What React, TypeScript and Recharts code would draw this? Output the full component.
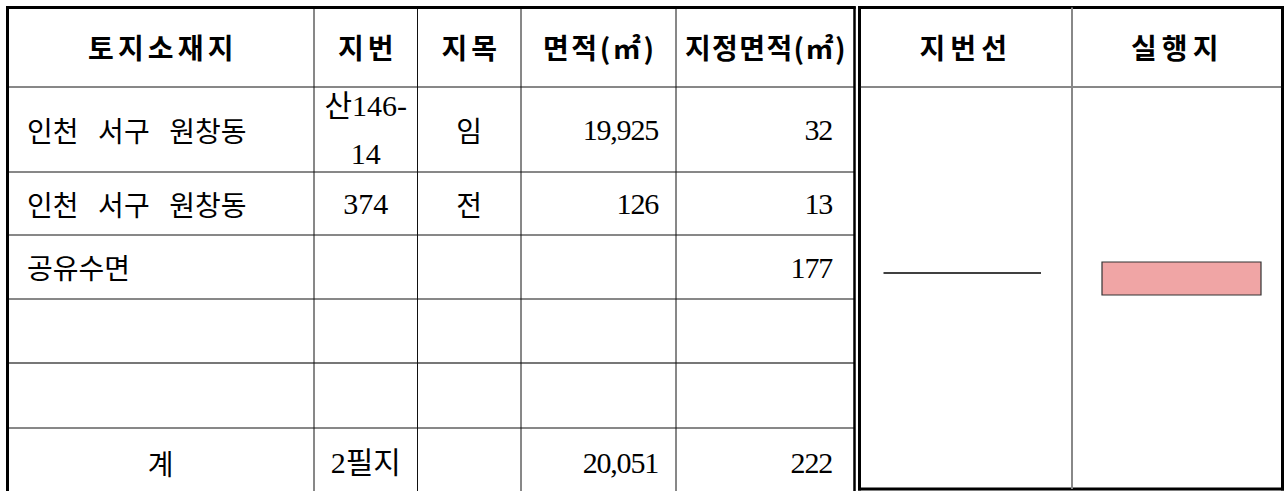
import { ScatterChart, XAxis, YAxis, Scatter, ReferenceLine, ReferenceArea } from "recharts"

// table text
const headers = ["토지소재지", "지번", "지목", "면적(㎡)", "지정면적(㎡)"]
const sideHeaders = ["지번선", "실행지"]
const locations = ["인천 서구 원창동", "인천 서구 원창동", "공유수면", "", "", "계"]
const lotNumbers = ["산146-\n14", "374", "", "", "", "2필지"]
const landCategories = ["임", "전", "", "", "", ""]
const areas = [19925, 126, null, null, null, 20051]
const designatedAreas = [32, 13, 177, null, null, 222]

// layout (page pixels)
const W = 1284
const H = 491
const colEdges = [7.5, 314, 417.5, 521, 676, 854.5]
const rowEdges = [7.5, 87, 172, 235, 299, 363, 428, 497]
const sideEdges = [859.5, 1072, 1282.5]
const sideBottom = 489
const colAlign: ("start" | "middle" | "end")[] = ["start", "middle", "middle", "end", "end"]
const colPad = [19.5, 0, 0, 18, 22.5]
const colFontSize = [28, 30, 28, 30, 30]
const colSpacing = [0, 0, 0, -1.2, -1.2]
const headSize = 28
const headSpacing = [4.2, 4.2, 4.2, 2.6, 1.4]
const sideHeadSpacing = [5, 5]
const lineGap = 48
const symbol = { lineInsetL: 24, lineInsetR: 31, lineY: 273, boxInsetL: 30, boxInsetR: 21.5, boxTop: 262, boxBottom: 295 }

const KO = "'Noto Sans CJK KR', sans-serif"
const SERIF = "'Liberation Serif', 'Noto Sans CJK KR', serif"

type Cell = {
  x: number
  y: number
  lines: string[]
  anchor: "start" | "middle" | "end"
  head: boolean
  col: number
  spacing: number
}

const fmt = (v: number | null) => (v == null ? "" : v.toLocaleString("en-US"))
const mid = (a: number, b: number) => (a + b) / 2

function buildCells(): Cell[] {
  const cells: Cell[] = []
  const headY = mid(rowEdges[0], rowEdges[1])
  headers.forEach((h, i) =>
    cells.push({
      x: mid(colEdges[i], colEdges[i + 1]) + headSpacing[i] / 2,
      y: headY,
      lines: [h],
      anchor: "middle",
      head: true,
      col: i,
      spacing: headSpacing[i],
    })
  )
  sideHeaders.forEach((h, i) =>
    cells.push({
      x: mid(sideEdges[i], sideEdges[i + 1]),
      y: headY,
      lines: [h],
      anchor: "middle",
      head: true,
      col: -1,
      spacing: sideHeadSpacing[i],
    })
  )
  const columns = [locations, lotNumbers, landCategories, areas.map(fmt), designatedAreas.map(fmt)]
  columns.forEach((col, c) =>
    col.forEach((v, r) => {
      if (!v) return
      const total = r === locations.length - 1
      const anchor = c === 0 && total ? "middle" : colAlign[c]
      const x =
        anchor === "start"
          ? colEdges[c] + colPad[c]
          : anchor === "end"
          ? colEdges[c + 1] - colPad[c]
          : mid(colEdges[c], colEdges[c + 1])
      cells.push({
        x,
        y: mid(rowEdges[r + 1], rowEdges[r + 2]),
        lines: v.split("\n"),
        anchor,
        head: false,
        col: c,
        spacing: colSpacing[c],
      })
    })
  )
  return cells
}

const cells = buildCells()

function CellText(props: any) {
  const { cx, cy, payload } = props
  const p = payload as Cell
  const n = p.lines.length
  const body = !p.head
  const font = p.head || p.col === 0 || p.col === 2 ? KO : SERIF
  return (
    <text
      textAnchor={p.anchor}
      fontFamily={font}
      fontSize={p.head ? headSize : colFontSize[p.col]}
      fontWeight={p.head ? 700 : 400}
      letterSpacing={p.spacing}
      fill="#000"
    >
      {p.lines.map((ln, i) => (
        <tspan key={i} x={cx} y={cy + (i - (n - 1) / 2) * lineGap} dominantBaseline="central">
          {body ? ln.replace(/ /g, "\u2002\u2009") : ln}
        </tspan>
      ))}
    </text>
  )
}

const thin = { stroke: "#111", strokeWidth: 1 }
const thick = { stroke: "#000", strokeWidth: 3 }

export default function App() {
  const [left, right] = [colEdges[0], colEdges[colEdges.length - 1]]
  return (
    <div style={{ position: "absolute", left: 0, top: 0, width: W, height: H, background: "#fff" }}>
      <ScatterChart width={W} height={H} margin={{ top: 0, right: 0, bottom: 0, left: 0 }}>
        <XAxis type="number" dataKey="x" domain={[0, W]} allowDataOverflow hide />
        <YAxis type="number" dataKey="y" domain={[0, H]} reversed allowDataOverflow hide />

        {/* left table: row lines */}
        {rowEdges.slice(1, -1).map((y, i) => (
          <ReferenceLine
            key={"r" + i}
            segment={[{ x: left, y }, { x: right, y }]}
            stroke={i === 4 ? "#777" : "#111"}
            strokeWidth={i === 4 ? 2 : 1}
          />
        ))}
        {/* left table: inner column lines */}
        {colEdges.slice(1, -1).map((x, i) => (
          <ReferenceLine key={"c" + i} segment={[{ x, y: rowEdges[0] }, { x, y: H }]} {...thin} />
        ))}
        {/* left table border */}
        <ReferenceLine segment={[{ x: left, y: 6 }, { x: left, y: H }]} {...thick} />
        <ReferenceLine segment={[{ x: 6, y: rowEdges[0] }, { x: right + 1.25, y: rowEdges[0] }]} {...thick} />
        <ReferenceLine segment={[{ x: right, y: 6.5 }, { x: right, y: H }]} stroke="#000" strokeWidth={2.5} />

        {/* right table */}
        <ReferenceLine segment={[{ x: sideEdges[0], y: 6 }, { x: sideEdges[0], y: sideBottom + 1.5 }]} {...thick} />
        <ReferenceLine segment={[{ x: sideEdges[2], y: 6 }, { x: sideEdges[2], y: sideBottom + 1.5 }]} {...thick} />
        <ReferenceLine segment={[{ x: sideEdges[0] - 1.5, y: rowEdges[0] }, { x: W, y: rowEdges[0] }]} {...thick} />
        <ReferenceLine segment={[{ x: sideEdges[0] - 1.5, y: sideBottom }, { x: W, y: sideBottom }]} {...thick} />
        <ReferenceLine segment={[{ x: sideEdges[0], y: rowEdges[1] }, { x: sideEdges[2], y: rowEdges[1] }]} {...thin} />
        <ReferenceLine
          segment={[{ x: sideEdges[1], y: rowEdges[0] }, { x: sideEdges[1], y: sideBottom }]}
          stroke="#888"
          strokeWidth={2}
        />

        {/* legend symbols */}
        <ReferenceLine
          segment={[
            { x: sideEdges[0] + symbol.lineInsetL, y: symbol.lineY },
            { x: sideEdges[1] - symbol.lineInsetR, y: symbol.lineY },
          ]}
          stroke="#000"
          strokeWidth={1.5}
        />
        <ReferenceArea
          x1={sideEdges[1] + symbol.boxInsetL}
          x2={sideEdges[2] - symbol.boxInsetR}
          y1={symbol.boxTop}
          y2={symbol.boxBottom}
          fill="#f0a5a5"
          fillOpacity={1}
          stroke="#333"
          strokeWidth={1.2}
        />

        <Scatter data={cells} shape={CellText} isAnimationActive={false} legendType="none" />
      </ScatterChart>
    </div>
  )
}
